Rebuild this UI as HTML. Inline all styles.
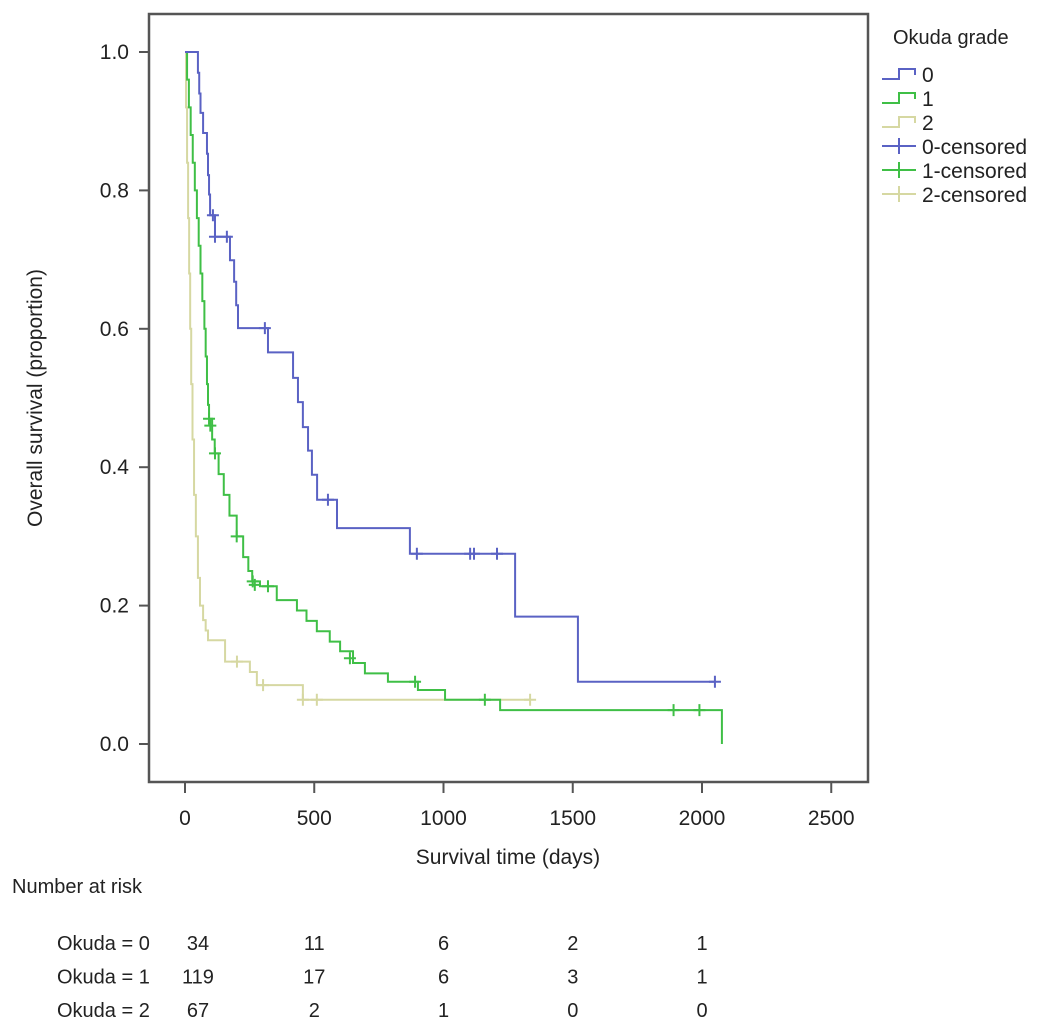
<!DOCTYPE html>
<html><head><meta charset="utf-8"><style>
body{margin:0;background:#fff}
svg{display:block;font-family:"Liberation Sans",Arial,sans-serif}
</style></head><body>
<svg id="chart" width="1063" height="1032" viewBox="0 0 1063 1032">
<rect x="0" y="0" width="1063" height="1032" fill="#fff"/>
<g id="plot"></g>
</svg>
<script>
const xTicks=[0,500,1000,1500,2000,2500];
const yTicks=[0.0,0.2,0.4,0.6,0.8,1.0];
const groups=["0","1","2"];
const colors=["#5a62c4","#3fbf46","#d6d8a2"];
// step curves: [day, survival after step]
const curve0=[[0,1],[50,0.97],[55,0.94],[60,0.912],[70,0.883],[85,0.853],[89,0.822],[93,0.794],[97,0.764],[116,0.733],[174,0.699],[190,0.668],[198,0.634],[205,0.601],[321,0.566],[418,0.529],[437,0.494],[456,0.458],[476,0.424],[491,0.389],[511,0.353],[588,0.312],[870,0.275],[1277,0.184],[1520,0.09],[2050,0.09]];
const cens0=[[108,0.764],[116,0.733],[162,0.733],[309,0.601],[553,0.353],[897,0.275],[1103,0.275],[1118,0.275],[1207,0.275],[2050,0.09]];
const curve1=[[0,1],[8,0.96],[15,0.92],[22,0.88],[30,0.84],[38,0.8],[46,0.76],[53,0.72],[60,0.68],[67,0.64],[75,0.6],[80,0.56],[85,0.52],[89,0.49],[93,0.47],[105,0.44],[115,0.42],[130,0.39],[150,0.36],[172,0.33],[200,0.3],[225,0.27],[245,0.25],[260,0.235],[290,0.228],[355,0.208],[433,0.193],[470,0.178],[510,0.163],[560,0.148],[600,0.134],[650,0.117],[696,0.102],[785,0.09],[901,0.078],[1006,0.064],[1219,0.049],[2077,0]];
const cens1=[[93,0.47],[98,0.46],[116,0.42],[200,0.3],[262,0.235],[270,0.23],[321,0.228],[638,0.124],[890,0.09],[1160,0.064],[1890,0.049],[1990,0.049]];
const curve2=[[0,1],[4,0.92],[8,0.84],[12,0.76],[16,0.68],[20,0.6],[24,0.52],[29,0.44],[35,0.36],[42,0.3],[50,0.24],[58,0.2],[70,0.179],[80,0.164],[89,0.15],[155,0.119],[251,0.104],[278,0.085],[456,0.064],[1335,0.064]];
const cens2=[[201,0.119],[302,0.085],[456,0.064],[510,0.064],[1335,0.064]];
const riskTimes=[0,500,1000,1500,2000];
const risk0=[34,11,6,2,1];
const risk1=[119,17,6,3,1];
const risk2=[67,2,1,0,0];

const NS="http://www.w3.org/2000/svg";
const g=document.getElementById('plot');
const X=d=>185+d*0.2585;
const Y=v=>744-v*692;
function mk(t,a,p){const e=document.createElementNS(NS,t);for(const k in a)e.setAttribute(k,a[k]);(p||g).appendChild(e);return e;}
function txt(s,a){const e=mk('text',a);e.textContent=s;return e;}

const fr=mk('rect',{x:149,y:14,width:719,height:768,fill:'none',stroke:'#555',"stroke-width":2.5});


yTicks.forEach(v=>{
 const t=mk('line',{x1:139,x2:149,y1:Y(v),y2:Y(v),stroke:'#555',"stroke-width":2});
 
 
 const l=txt(v.toFixed(1),{x:129,y:Y(v)+7,"text-anchor":"end","font-size":21,fill:'#222'});
 
 
});
xTicks.forEach(v=>{
 const t=mk('line',{x1:X(v),x2:X(v),y1:782,y2:793,stroke:'#555',"stroke-width":2});
 
 
 const l=txt(String(v),{x:X(v),y:825,"text-anchor":"middle","font-size":21,fill:'#222'});
 
 
});
const xt=txt('Survival time (days)',{x:508,y:864,"text-anchor":"middle","font-size":21,fill:'#222'});


const yt=txt('Overall survival (proportion)',{x:0,y:0,"text-anchor":"middle","font-size":21,fill:'#222',transform:'translate(42,398) rotate(-90)'});



function stepPath(c){let d=`M${X(c[0][0])},${Y(c[0][1])}`;for(let i=1;i<c.length;i++){d+=`H${X(c[i][0])}V${Y(c[i][1])}`;}return d;}
const curves=[curve0,curve1,curve2],cens=[cens0,cens1,cens2];
[2,1,0].forEach(i=>{
 const p=mk('path',{d:stepPath(curves[i]),fill:'none',stroke:colors[i],"stroke-width":2});
 
 
 cens[i].forEach(c=>{
  const m=mk('path',{d:`M${X(c[0])-6},${Y(c[1])}h12M${X(c[0])},${Y(c[1])-6}v12`,stroke:colors[i],"stroke-width":2});
  
  
 });
});

const lt=txt('Okuda grade',{x:893,y:44,"font-size":20,fill:'#222'});


const labels=["0","1","2","0-censored","1-censored","2-censored"];
labels.forEach((s,k)=>{
 const y=74+k*24, c=colors[k%3];
 let e;
 if(k<3) e=mk('path',{d:`M882,${y+5}h17v-10h16v6`,fill:'none',stroke:c,"stroke-width":2});
 else e=mk('path',{d:`M882,${y}h34M899,${y-8}v16`,stroke:c,"stroke-width":2});
 
 
 const t=txt(s,{x:922,y:y+8,"font-size":21,fill:'#222'});
 
 
});

const rh=txt('Number at risk',{x:12,y:893,"font-size":20,fill:'#222'});


[risk0,risk1,risk2].forEach((r,k)=>{
 const y=950+k*33.5;
 const l=txt('Okuda = '+groups[k],{x:57,y:y,"font-size":20,fill:'#222'});
 
 
 r.forEach((v,j)=>{
  const t=txt(String(v),{x:X(riskTimes[j])+(j==0?13:0),y:y,"text-anchor":"middle","font-size":20,fill:'#222'});
  
  
 });
});
</script>
</body></html>
